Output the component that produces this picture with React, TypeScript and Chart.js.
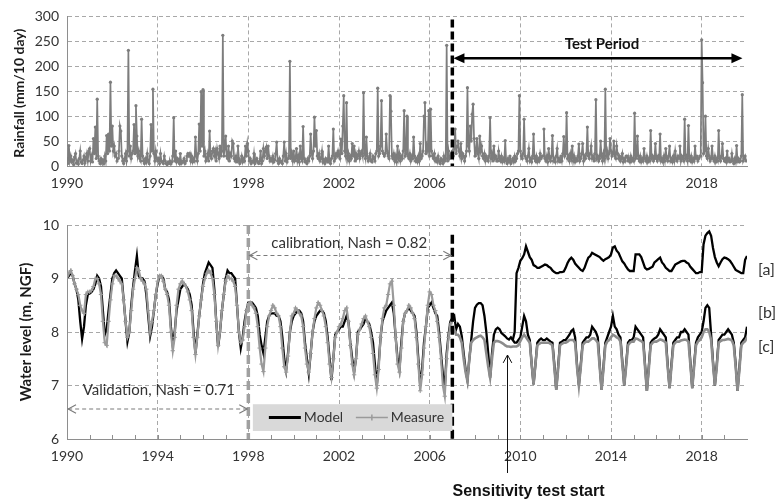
import React, { useEffect, useRef } from 'react';
import { Chart, registerables } from 'chart.js';

Chart.register(...registerables);

// ---------------- DATA ----------------
const xTickYears = [1990, 1994, 1998, 2002, 2006, 2010, 2014, 2018];
const rainTicks = [0, 50, 100, 150, 200, 250, 300];
const levelTicks = [6, 7, 8, 9, 10];

// Rainfall (mm/10 day), 24 samples per year, 1990.0 -> 2019.96
const rainfallStart = 1990;
const rainfallPerYear = 24;
const rainfall = [
  15, 5, 41, 10, 20, 8, 12, 3, 18, 25, 6, 10, 4, 15, 30, 8, 5, 12, 20, 6, 15, 25, 10, 30,
  35, 10, 20, 8, 55, 25, 78, 15, 134, 20, 10, 5, 15, 8, 12, 5, 20, 10, 61, 25, 64, 30, 168, 40,
  80, 30, 40, 20, 25, 10, 15, 30, 80, 70, 20, 10, 5, 15, 25, 10, 30, 232, 20, 40, 15, 25, 30, 83,
  25, 121, 60, 20, 30, 15, 10, 94, 20, 10, 5, 15, 8, 25, 10, 5, 20, 83, 30, 154, 25, 10, 30, 15,
  10, 15, 5, 25, 10, 8, 5, 20, 10, 5, 3, 8, 5, 10, 4, 8, 20, 97, 10, 30, 8, 15, 10, 5,
  25, 5, 10, 8, 15, 5, 10, 20, 25, 20, 25, 10, 20, 8, 15, 10, 58, 20, 10, 25, 84, 30, 149, 40,
  153, 20, 30, 10, 15, 25, 10, 70, 20, 15, 30, 35, 20, 30, 10, 35, 25, 15, 40, 20, 30, 262, 20, 35,
  60, 20, 15, 40, 10, 25, 20, 50, 45, 15, 10, 20, 8, 40, 15, 5, 10, 20, 8, 15, 10, 40, 20, 45,
  30, 10, 15, 5, 10, 8, 25, 5, 10, 15, 8, 5, 10, 30, 5, 10, 35, 20, 30, 38, 15, 40, 20, 10,
  15, 10, 20, 8, 12, 25, 48, 10, 5, 15, 8, 10, 5, 20, 48, 10, 25, 8, 15, 20, 210, 15, 25, 10,
  30, 10, 15, 35, 10, 20, 8, 40, 15, 10, 79, 15, 8, 10, 5, 15, 10, 20, 64, 25, 15, 30, 98, 40,
  71, 20, 15, 25, 10, 15, 30, 8, 12, 5, 15, 10, 8, 40, 10, 5, 15, 20, 74, 10, 15, 25, 20, 30,
  20, 15, 54, 25, 80, 141, 30, 20, 127, 15, 25, 10, 20, 15, 45, 20, 40, 10, 25, 15, 20, 30, 15, 25,
  30, 20, 147, 25, 15, 58, 20, 10, 15, 25, 10, 8, 20, 15, 10, 25, 30, 156, 20, 25, 40, 131, 30, 25,
  20, 25, 64, 30, 20, 15, 141, 110, 20, 15, 25, 10, 20, 8, 40, 15, 25, 10, 20, 15, 30, 111, 20, 25,
  100, 20, 15, 25, 10, 20, 15, 58, 20, 10, 15, 8, 20, 10, 45, 15, 20, 30, 100, 127, 25, 40, 30, 111,
  20, 114, 30, 20, 15, 25, 10, 15, 8, 20, 10, 5, 15, 10, 5, 20, 10, 15, 242, 10, 30, 15, 20, 25,
  30, 20, 35, 74, 25, 40, 50, 30, 20, 45, 15, 25, 20, 10, 20, 30, 157, 40, 30, 80, 50, 104, 124, 55,
  20, 30, 55, 25, 15, 60, 30, 40, 20, 15, 25, 10, 20, 15, 10, 20, 97, 15, 25, 10, 40, 15, 20, 10,
  10, 30, 15, 10, 20, 8, 15, 10, 51, 10, 5, 15, 8, 20, 5, 10, 15, 8, 20, 10, 15, 25, 30, 141,
  30, 20, 15, 25, 94, 20, 15, 10, 20, 35, 10, 15, 8, 20, 64, 15, 10, 20, 8, 15, 10, 25, 15, 20,
  20, 74, 15, 10, 20, 8, 35, 15, 10, 20, 61, 10, 15, 8, 20, 35, 10, 15, 8, 20, 10, 25, 59, 20,
  25, 107, 15, 20, 10, 25, 15, 40, 10, 20, 8, 15, 10, 20, 44, 10, 15, 25, 45, 10, 20, 15, 25, 78,
  20, 15, 25, 40, 15, 20, 10, 25, 133, 15, 20, 10, 15, 50, 20, 10, 25, 15, 154, 20, 30, 15, 25, 55,
  30, 20, 25, 50, 20, 15, 40, 25, 15, 20, 10, 15, 25, 8, 15, 10, 20, 20, 10, 15, 8, 20, 10, 15,
  10, 106, 15, 20, 60, 15, 10, 20, 8, 15, 10, 35, 15, 10, 20, 8, 15, 10, 71, 15, 20, 10, 15, 45,
  15, 10, 20, 15, 64, 10, 15, 8, 20, 10, 35, 15, 10, 20, 40, 10, 15, 8, 20, 10, 30, 15, 10, 20,
  15, 40, 10, 20, 15, 10, 94, 15, 20, 10, 81, 15, 10, 20, 8, 15, 10, 40, 15, 20, 10, 15, 20, 20,
  253, 167, 25, 30, 100, 20, 15, 35, 20, 10, 15, 40, 15, 10, 20, 8, 15, 10, 71, 15, 10, 20, 45, 15,
  10, 15, 8, 30, 10, 15, 8, 10, 25, 10, 5, 15, 8, 41, 10, 15, 8, 10, 20, 143, 10, 15, 20, 10,
];

// Water level (m, NGF), monthly
const levelPerYear = 12;
const modelStart = 1990; // Model, continues as scenario [b]
const model = [
  9.0, 9.05, 9.1, 9.05, 8.9, 8.8, 8.6, 8.2, 7.87, 8.1, 8.5, 8.7,
  8.72, 8.75, 8.8, 8.9, 9.05, 9.0, 8.85, 8.4, 7.95, 8.05, 8.4, 8.7,
  9.0, 9.1, 9.15, 9.1, 9.05, 9.0, 8.6, 8.2, 7.82, 8.0, 8.5, 8.85,
  9.15, 9.42, 9.05, 9.0, 9.0, 8.95, 8.7, 8.3, 7.92, 8.1, 8.4, 8.7,
  8.9, 9.05, 9.05, 9.0, 8.8, 8.75, 8.6, 8.1, 7.75, 8.0, 8.4, 8.6,
  8.8, 8.85, 8.9, 8.85, 8.8, 8.7, 8.5, 8.0, 7.6, 7.95, 8.3, 8.6,
  8.9, 9.1, 9.2, 9.3, 9.25, 9.2, 8.8, 8.2, 7.72, 8.0, 8.4, 8.7,
  9.0, 9.15, 9.1, 9.1, 9.05, 9.0, 8.5, 8.0, 7.7, 7.9, 8.2, 8.4,
  8.55, 8.55, 8.55, 8.5, 8.45, 8.3, 7.95, 7.75, 7.6, 7.9, 8.2, 8.3,
  8.35, 8.35, 8.35, 8.3, 8.3, 8.2, 7.9, 7.5, 7.28, 7.6, 8.0, 8.2,
  8.3, 8.35, 8.4, 8.4, 8.35, 8.2, 7.8, 7.5, 7.22, 7.6, 8.0, 8.2,
  8.3, 8.35, 8.4, 8.4, 8.35, 8.2, 7.9, 7.5, 7.1, 7.5, 7.95, 8.0,
  8.05, 8.1, 8.1, 8.2, 8.3, 8.2, 7.8, 7.5, 7.25, 7.5, 8.0, 8.05,
  8.1, 8.15, 8.25, 8.2, 8.15, 8.0, 7.8, 7.4, 7.0, 7.4, 7.9, 8.2,
  8.3, 8.4, 8.45, 8.5, 8.55, 8.35, 7.9, 7.5, 7.3, 7.8, 8.2, 8.35,
  8.4, 8.45, 8.4, 8.35, 8.3, 8.0, 7.5, 7.0, 7.3, 7.8, 8.1, 8.45,
  8.5, 8.55, 8.45, 8.35, 8.3, 8.0, 7.6, 7.2, 6.95, 7.6, 7.95, 8.2,
  8.26, 8.3, 8.05, 8.15, 8.1, 7.92, 7.6, 7.3, 7.1, 7.5, 7.85, 8.2,
  8.45, 8.51, 8.54, 8.54, 8.5, 8.3, 8.0, 7.6, 7.14, 7.6, 7.95, 8.05,
  8.08, 8.05, 7.98, 7.95, 7.92, 7.88, 7.86, 7.9, 7.85, 7.8, 7.8, 7.85,
  7.9, 8.1, 8.3, 8.2, 7.95, 7.85, 7.4, 7.02, 7.4, 7.8, 7.85, 7.88,
  7.85, 7.85, 7.88, 7.85, 7.82, 7.8, 7.4, 6.92, 7.35, 7.8, 7.82, 7.85,
  7.85, 7.9, 7.95, 8.02, 8.05, 7.9, 7.4, 7.0, 7.4, 7.8, 7.85, 7.9,
  7.9, 7.95, 8.1, 8.05, 8.0, 7.9, 7.4, 6.92, 7.35, 7.8, 7.9, 8.0,
  8.1, 8.3, 8.1, 8.05, 7.95, 7.9, 7.45, 7.0, 7.4, 7.8, 7.85, 7.85,
  7.9, 8.1, 8.05, 8.0, 7.95, 7.9, 7.4, 6.9, 7.35, 7.8, 7.85, 7.88,
  7.9, 7.95, 8.05, 8.0, 7.95, 7.9, 7.4, 6.95, 7.4, 7.8, 7.85, 7.9,
  7.9, 8.0, 8.0, 8.05, 8.0, 7.95, 7.45, 6.95, 7.4, 7.8, 7.9, 7.95,
  8.0, 8.2, 8.45, 8.5, 8.45, 7.95, 7.45, 7.0, 7.4, 7.85, 7.9, 7.95,
  7.95, 8.0, 8.05, 8.0, 7.95, 7.8, 7.4, 6.9, 7.35, 7.8, 7.85, 7.9,
  8.1,
];

const measureStart = 1990;
const measure = [
  9.0, 9.1, 9.15, 9.05, 8.9, 8.8, 8.7, 8.5, 8.4, 8.35, 8.7, 8.75,
  8.75, 8.78, 8.85, 9.0, 9.0, 8.9, 8.7, 8.2, 7.8, 7.75, 8.2, 8.6,
  8.9, 9.05, 9.05, 9.0, 8.95, 8.9, 8.6, 8.2, 7.9, 8.0, 8.4, 8.8,
  9.0, 9.2, 9.15, 9.0, 8.95, 8.9, 8.8, 8.4, 8.0, 8.2, 8.4, 8.7,
  8.95, 9.05, 9.05, 8.95, 8.8, 8.7, 8.5, 8.0, 7.65, 7.9, 8.5, 8.8,
  8.9, 8.95, 8.9, 8.85, 8.75, 8.6, 8.4, 7.9, 7.58, 7.9, 8.3, 8.6,
  8.85, 9.0, 9.1, 9.15, 9.1, 9.0, 8.7, 8.2, 7.75, 8.0, 8.4, 8.7,
  8.95, 9.05, 9.0, 9.0, 8.95, 8.85, 8.5, 8.0, 7.8, 7.85, 8.1, 8.4,
  8.5, 8.55, 8.5, 8.45, 8.35, 8.1, 7.7, 7.4, 7.26, 7.7, 8.1, 8.3,
  8.4, 8.5, 8.45, 8.35, 8.3, 8.1, 7.7, 7.35, 7.25, 7.55, 8.0, 8.3,
  8.35, 8.45, 8.4, 8.35, 8.3, 8.1, 7.7, 7.4, 7.25, 7.6, 8.0, 8.25,
  8.45, 8.55, 8.5, 8.4, 8.3, 8.1, 7.8, 7.4, 7.15, 7.5, 7.9, 8.0,
  8.1, 8.15, 8.25, 8.4, 8.45, 8.2, 7.75, 7.4, 7.2, 7.5, 7.95, 8.05,
  8.15, 8.25, 8.3, 8.2, 8.1, 7.9, 7.6, 7.2, 6.95, 7.3, 7.9, 8.25,
  8.45, 8.5, 8.7, 8.9, 8.95, 8.5, 7.9, 7.4, 7.25, 7.7, 8.2, 8.35,
  8.4, 8.5, 8.45, 8.35, 8.25, 7.9, 7.4, 6.9, 7.2, 7.7, 8.1, 8.5,
  8.75, 8.7, 8.5, 8.4, 8.2, 7.9, 7.5, 7.0, 6.8, 7.5, 7.9, 8.15,
  8.2,
];

const scenarioAStart = 2009 + 8 / 12; // [a]
const scenarioA = [
  7.85, 8.0, 9.1, 9.2,
  9.33, 9.38, 9.45, 9.6, 9.5, 9.4, 9.35, 9.25, 9.23, 9.2, 9.2, 9.22,
  9.24, 9.26, 9.25, 9.22, 9.2, 9.15, 9.12, 9.1, 9.1, 9.12, 9.12, 9.13,
  9.2, 9.29, 9.35, 9.39, 9.35, 9.28, 9.24, 9.2, 9.16, 9.14, 9.2, 9.3,
  9.39, 9.42, 9.48, 9.46, 9.44, 9.42, 9.4, 9.36, 9.33, 9.36, 9.38, 9.4,
  9.45, 9.58, 9.6, 9.52, 9.48, 9.4, 9.32, 9.28, 9.22, 9.17, 9.14, 9.14,
  9.14, 9.45, 9.45, 9.45, 9.4, 9.3, 9.2, 9.17, 9.18, 9.2, 9.22, 9.3,
  9.33, 9.36, 9.39, 9.3, 9.26, 9.2, 9.17, 9.14, 9.14, 9.2, 9.26, 9.28,
  9.3, 9.32, 9.33, 9.33, 9.3, 9.28, 9.22, 9.18, 9.14, 9.1, 9.1, 9.12,
  9.12, 9.64, 9.8, 9.85, 9.88, 9.8, 9.57, 9.4, 9.3, 9.23, 9.3, 9.36,
  9.39, 9.38, 9.36, 9.33, 9.28, 9.22, 9.16, 9.14, 9.12, 9.1, 9.1, 9.35,
  9.42,
];

const scenarioCStart = 2007; // [c]
const scenarioC = [
  8.0, 8.05, 7.95, 7.95, 7.9, 7.8, 7.5, 7.25, 7.08, 7.5, 7.8, 7.85,
  7.88, 7.9, 7.92, 7.93, 7.9, 7.85, 7.6, 7.35, 7.15, 7.5, 7.8, 7.83,
  7.83, 7.82, 7.8, 7.78, 7.75, 7.73, 7.73, 7.72, 7.73, 7.73, 7.73, 7.75,
  7.83, 7.9, 7.95, 7.9, 7.85, 7.8, 7.4, 7.02, 7.4, 7.75, 7.78, 7.8,
  7.8, 7.8, 7.8, 7.8, 7.78, 7.75, 7.35, 6.92, 7.3, 7.75, 7.78, 7.8,
  7.8, 7.82, 7.85, 7.85, 7.85, 7.8, 7.35, 7.0, 7.35, 7.75, 7.8, 7.82,
  7.82, 7.85, 7.88, 7.88, 7.85, 7.8, 7.35, 6.92, 7.3, 7.75, 7.82, 7.85,
  7.9, 7.95, 7.93, 7.9, 7.88, 7.82, 7.4, 7.0, 7.35, 7.75, 7.8, 7.82,
  7.82, 7.88, 7.87, 7.85, 7.83, 7.8, 7.35, 6.9, 7.3, 7.75, 7.8, 7.82,
  7.82, 7.84, 7.86, 7.85, 7.83, 7.8, 7.35, 6.95, 7.35, 7.75, 7.8, 7.82,
  7.82, 7.84, 7.85, 7.86, 7.85, 7.82, 7.4, 6.95, 7.35, 7.75, 7.82, 7.85,
  7.9, 8.0, 8.05, 8.05, 8.0, 7.85, 7.4, 7.0, 7.35, 7.8, 7.83, 7.85,
  7.85, 7.86, 7.87, 7.86, 7.84, 7.75, 7.35, 6.9, 7.3, 7.75, 7.8, 7.83,
  7.9,
];

// Annotation anchors (data units)
const testStart = 2007;
const calibStart = 1998;
const testArrow = { from: 2007.05, to: 2019.8, level: 216 };
const testLabel = { year: 2013.6, level: 244, text: 'Test Period' };
const calibArrow = { from: 1998.05, to: 2006.95, level: 9.43 };
const calibLabel = { year: 2002.45, level: 9.66, text: 'calibration, Nash = 0.82' };
const validArrow = { from: 1990.05, to: 1997.95, level: 6.56 };
const validLabel = { year: 1994.05, level: 6.92, text: 'Validation, Nash = 0.71' };
const legendBox = { from: 1998.2, to: 2007, top: 6.65, bottom: 6.15 };
const scenarioLabels = [
  { text: '[a]', level: 9.16 },
  { text: '[b]', level: 8.35 },
  { text: '[c]', level: 7.73 },
];
const sensitivity = { year: 2009.43, level: 7.57, text: 'Sensitivity test start' };

// ---------------- STYLE ----------------
const FONT = 'Lato, "Open Sans", sans-serif';
const TEXT = '#333';
const GRID = '#a8a8a8';
const AXIS = '#8e8e8e';
const W = 778;

const toPoints = (arr: number[], start: number, perYear: number) =>
  arr.map((v, i) => ({ x: start + i / perYear, y: v }));

function xAxis(height: number): any {
  return {
    type: 'linear',
    min: 1990,
    max: 2020,
    afterBuildTicks: (s: any) => {
      s.ticks = xTickYears.map((v) => ({ value: v }));
    },
    afterFit: (s: any) => {
      s.height = height;
    },
    ticks: {
      padding: 9,
      color: TEXT,
      font: { family: FONT, size: 14 },
      maxRotation: 0,
      autoSkip: false,
      callback: (v: any) => String(v),
    },
    grid: { color: GRID, lineWidth: 1, drawTicks: false },
    border: { color: AXIS, width: 1, dash: [4, 3] },
  };
}

function yAxis(min: number, max: number, ticksList: number[]): any {
  return {
    type: 'linear',
    min,
    max,
    afterBuildTicks: (s: any) => {
      s.ticks = ticksList.map((v) => ({ value: v }));
    },
    afterFit: (s: any) => {
      s.width = 67;
    },
    ticks: {
      padding: 8,
      color: TEXT,
      font: { family: FONT, size: 14 },
      callback: (v: any) => String(v),
    },
    grid: { color: GRID, lineWidth: 1, drawTicks: false },
    border: { color: AXIS, width: 1, dash: [4, 3] },
  };
}

function vTitle(ctx: CanvasRenderingContext2D, text: string, cx: number, cy: number, size: number) {
  ctx.save();
  ctx.translate(cx, cy);
  ctx.rotate(-Math.PI / 2);
  ctx.font = `bold ${size}px ${FONT}`;
  ctx.fillStyle = '#1a1a1a';
  ctx.textAlign = 'center';
  ctx.textBaseline = 'middle';
  ctx.fillText(text, 0, 0);
  ctx.restore();
}

function openHead(ctx: CanvasRenderingContext2D, x: number, y: number, dx: number, dy: number) {
  const len = 9;
  const ang = Math.atan2(dy, dx);
  ctx.beginPath();
  ctx.moveTo(x - len * Math.cos(ang - 0.5), y - len * Math.sin(ang - 0.5));
  ctx.lineTo(x, y);
  ctx.lineTo(x - len * Math.cos(ang + 0.5), y - len * Math.sin(ang + 0.5));
  ctx.stroke();
}

function dashedDoubleArrow(ctx: CanvasRenderingContext2D, x1: number, x2: number, y: number) {
  ctx.save();
  ctx.strokeStyle = '#7a7a7a';
  ctx.lineWidth = 1.1;
  ctx.setLineDash([4, 3]);
  ctx.beginPath();
  ctx.moveTo(x1, y);
  ctx.lineTo(x2, y);
  ctx.stroke();
  ctx.setLineDash([]);
  openHead(ctx, x1, y, -1, 0);
  openHead(ctx, x2, y, 1, 0);
  ctx.restore();
}

const topPlugin = {
  id: 'topAnno',
  afterDatasetsDraw(chart: any) {
    const { ctx, chartArea: a, scales } = chart;
    const x = scales.x;
    const y = scales.y;
    ctx.save();
    const xs = x.getPixelForValue(testStart);
    ctx.strokeStyle = '#000';
    ctx.lineWidth = 3.5;
    ctx.setLineDash([8, 4]);
    ctx.beginPath();
    ctx.moveTo(xs, a.top + 3);
    ctx.lineTo(xs, a.bottom);
    ctx.stroke();
    ctx.setLineDash([]);

    const ay = y.getPixelForValue(testArrow.level);
    const x1 = x.getPixelForValue(testArrow.from);
    const x2 = x.getPixelForValue(testArrow.to);
    ctx.lineWidth = 2.5;
    ctx.beginPath();
    ctx.moveTo(x1 + 6, ay);
    ctx.lineTo(x2 - 6, ay);
    ctx.stroke();
    ctx.fillStyle = '#000';
    ctx.beginPath();
    ctx.moveTo(x1, ay);
    ctx.lineTo(x1 + 11, ay - 5);
    ctx.lineTo(x1 + 11, ay + 5);
    ctx.closePath();
    ctx.fill();
    ctx.beginPath();
    ctx.moveTo(x2, ay);
    ctx.lineTo(x2 - 11, ay - 5);
    ctx.lineTo(x2 - 11, ay + 5);
    ctx.closePath();
    ctx.fill();

    ctx.font = `bold 15px ${FONT}`;
    ctx.textAlign = 'center';
    ctx.textBaseline = 'middle';
    ctx.fillStyle = '#111';
    ctx.fillText(testLabel.text, x.getPixelForValue(testLabel.year), y.getPixelForValue(testLabel.level));
    ctx.restore();
  },
  afterDraw(chart: any) {
    const { ctx, chartArea: a } = chart;
    vTitle(ctx, 'Rainfall (mm/10 day)', 19, (a.top + a.bottom) / 2 + 2, 14);
  },
};

const bottomPlugin = {
  id: 'bottomAnno',
  afterDatasetsDraw(chart: any) {
    const { ctx, chartArea: a, scales } = chart;
    const x = scales.x;
    const y = scales.y;
    ctx.save();

    // minor yearly ticks
    ctx.strokeStyle = AXIS;
    ctx.lineWidth = 1;
    for (let yr = 1991; yr < 2020; yr++) {
      const px = Math.round(x.getPixelForValue(yr)) + 0.5;
      ctx.beginPath();
      ctx.moveTo(px, a.bottom);
      ctx.lineTo(px, a.bottom - 4);
      ctx.stroke();
    }

    // calibration start (grey dashed)
    const xc = x.getPixelForValue(calibStart);
    ctx.strokeStyle = '#a0a0a0';
    ctx.lineWidth = 3.5;
    ctx.setLineDash([9, 4]);
    ctx.beginPath();
    ctx.moveTo(xc, a.top);
    ctx.lineTo(xc, a.bottom);
    ctx.stroke();

    // test start (black dashed)
    const xt = x.getPixelForValue(testStart);
    ctx.strokeStyle = '#000';
    ctx.beginPath();
    ctx.moveTo(xt, y.getPixelForValue(9.82));
    ctx.lineTo(xt, a.bottom);
    ctx.stroke();
    ctx.setLineDash([]);

    // arrows + labels
    dashedDoubleArrow(ctx, x.getPixelForValue(calibArrow.from), x.getPixelForValue(calibArrow.to), y.getPixelForValue(calibArrow.level));
    dashedDoubleArrow(ctx, x.getPixelForValue(validArrow.from), x.getPixelForValue(validArrow.to), y.getPixelForValue(validArrow.level));

    ctx.font = `15px ${FONT}`;
    ctx.fillStyle = TEXT;
    ctx.textAlign = 'center';
    ctx.textBaseline = 'middle';
    ctx.fillText(calibLabel.text, x.getPixelForValue(calibLabel.year), y.getPixelForValue(calibLabel.level));
    ctx.fillText(validLabel.text, x.getPixelForValue(validLabel.year), y.getPixelForValue(validLabel.level));

    // legend box
    const lx1 = x.getPixelForValue(legendBox.from);
    const lx2 = x.getPixelForValue(legendBox.to);
    const ly1 = y.getPixelForValue(legendBox.top);
    const ly2 = y.getPixelForValue(legendBox.bottom);
    ctx.fillStyle = '#d9d9d9';
    ctx.fillRect(lx1, ly1, lx2 - lx1, ly2 - ly1);
    const lyc = (ly1 + ly2) / 2;
    ctx.strokeStyle = '#000';
    ctx.lineWidth = 3;
    ctx.beginPath();
    ctx.moveTo(lx1 + 16, lyc);
    ctx.lineTo(lx1 + 48, lyc);
    ctx.stroke();
    ctx.font = `14px ${FONT}`;
    ctx.fillStyle = '#333';
    ctx.textAlign = 'left';
    ctx.fillText('Model', lx1 + 51, lyc);
    ctx.strokeStyle = '#9a9a9a';
    ctx.lineWidth = 1.5;
    ctx.beginPath();
    ctx.moveTo(lx1 + 103, lyc);
    ctx.lineTo(lx1 + 135, lyc);
    ctx.moveTo(lx1 + 119, lyc - 3);
    ctx.lineTo(lx1 + 119, lyc + 3);
    ctx.stroke();
    ctx.fillText('Measure', lx1 + 138, lyc);

    // scenario labels
    ctx.font = `16px ${FONT}`;
    ctx.fillStyle = TEXT;
    for (const s of scenarioLabels) {
      ctx.fillText(s.text, a.right + 11, y.getPixelForValue(s.level));
    }

    // sensitivity arrow
    const sx = Math.round(x.getPixelForValue(sensitivity.year)) + 0.5;
    const sTop = y.getPixelForValue(sensitivity.level);
    ctx.strokeStyle = '#111';
    ctx.lineWidth = 1;
    ctx.beginPath();
    ctx.moveTo(sx, a.bottom + 34);
    ctx.lineTo(sx, sTop);
    ctx.stroke();
    openHead(ctx, sx, sTop, 0, -1);
    ctx.font = 'bold 16px "Liberation Sans", Arial, sans-serif';
    ctx.fillStyle = '#111';
    ctx.textAlign = 'center';
    ctx.fillText(sensitivity.text, sx + 21, a.bottom + 53);
    ctx.restore();
  },
  afterDraw(chart: any) {
    const { ctx, chartArea: a } = chart;
    vTitle(ctx, 'Water level (m, NGF)', 26, (a.top + a.bottom) / 2, 15);
  },
};

export default function App() {
  const topRef = useRef<HTMLCanvasElement | null>(null);
  const botRef = useRef<HTMLCanvasElement | null>(null);

  useEffect(() => {
    if (!topRef.current || !botRef.current) return;
    const top = new Chart(topRef.current, {
      type: 'line',
      data: {
        datasets: [
          {
            label: 'Rainfall',
            data: toPoints(rainfall, rainfallStart, rainfallPerYear),
            borderColor: '#7d7d7d',
            backgroundColor: '#7d7d7d',
            borderWidth: 1.7,
            pointRadius: 1.6,
            pointBorderWidth: 0,
            tension: 0,
          },
        ],
      },
      options: {
        responsive: false,
        animation: false,
        layout: { padding: { left: 0, top: 14, right: 31, bottom: 0 } },
        plugins: { legend: { display: false }, tooltip: { enabled: false } },
        scales: { x: xAxis(34), y: yAxis(0, 300, rainTicks) },
      },
      plugins: [topPlugin],
    });

    const bottom = new Chart(botRef.current, {
      type: 'line',
      data: {
        datasets: [
          {
            label: 'Measure',
            data: toPoints(measure, measureStart, levelPerYear),
            borderColor: '#9a9a9a',
            backgroundColor: '#9a9a9a',
            borderWidth: 2.2,
            pointStyle: 'cross',
            pointRadius: 2.2,
            pointBorderWidth: 1,
            pointBorderColor: '#9a9a9a',
            tension: 0,
          },
          {
            label: '[c]',
            data: toPoints(scenarioC, scenarioCStart, levelPerYear),
            borderColor: '#8c8c8c',
            borderWidth: 2.6,
            pointRadius: 0,
            tension: 0,
          },
          {
            label: 'Model',
            data: toPoints(model, modelStart, levelPerYear),
            borderColor: '#000',
            borderWidth: 2.3,
            pointRadius: 0,
            tension: 0,
          },
          {
            label: '[a]',
            data: toPoints(scenarioA, scenarioAStart, levelPerYear),
            borderColor: '#000',
            borderWidth: 2.3,
            pointRadius: 0,
            tension: 0,
          },
        ],
      },
      options: {
        responsive: false,
        animation: false,
        layout: { padding: { left: 0, top: 25, right: 31, bottom: 0 } },
        plugins: { legend: { display: false }, tooltip: { enabled: false } },
        scales: { x: xAxis(62), y: yAxis(6, 10, levelTicks) },
      },
      plugins: [bottomPlugin],
    });

    return () => {
      top.destroy();
      bottom.destroy();
    };
  }, []);

  return (
    <div style={{ position: 'absolute', left: 0, top: 0, width: W, height: 501, background: '#fff' }}>
      <canvas ref={topRef} width={W} height={200} style={{ position: 'absolute', left: 0, top: 0, display: 'block' }} />
      <canvas ref={botRef} width={W} height={301} style={{ position: 'absolute', left: 0, top: 200, display: 'block' }} />
    </div>
  );
}
